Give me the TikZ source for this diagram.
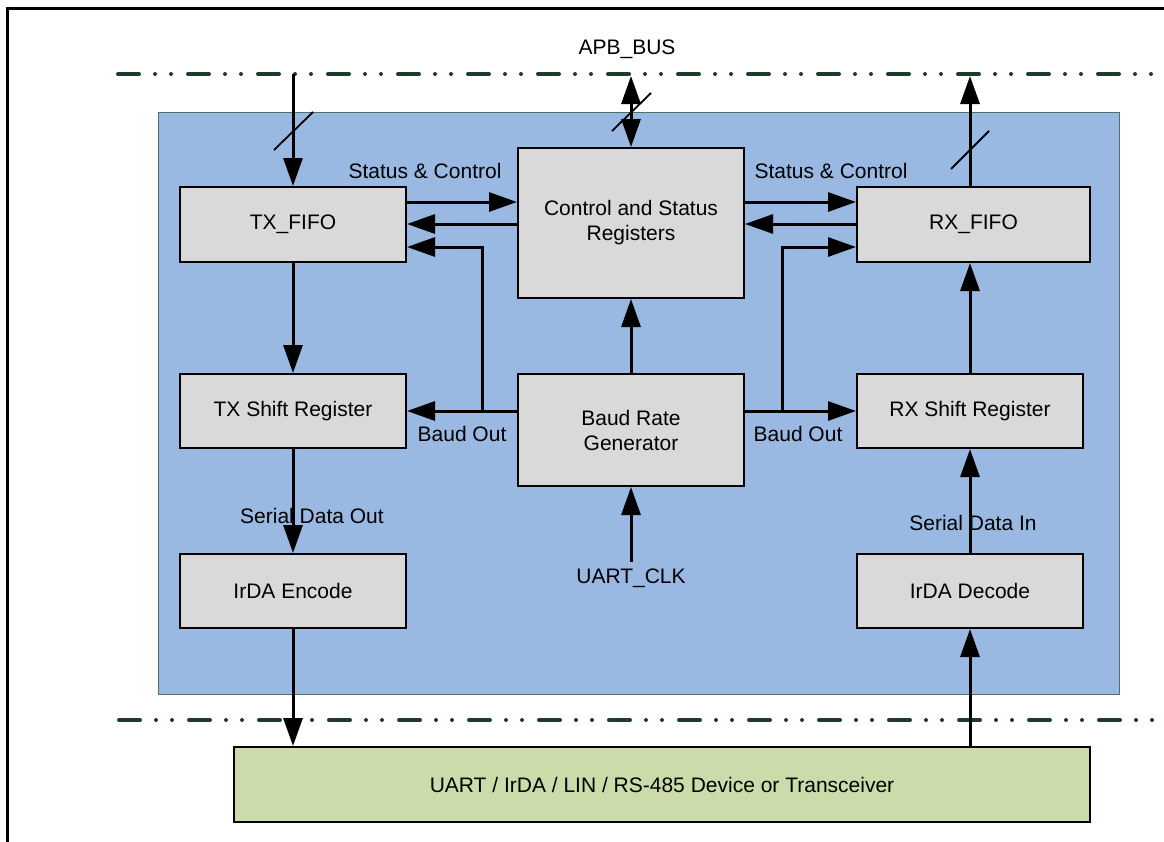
\documentclass[tikz,border=0pt]{standalone}
\usepackage{fontspec}
\setmainfont{Liberation Sans}
\usetikzlibrary{arrows.meta,calc}
\definecolor{bluebg}{RGB}{153,185,227}
\definecolor{blueedge}{RGB}{80,110,110}
\definecolor{boxgray}{RGB}{217,217,217}
\definecolor{boxgreen}{RGB}{204,219,170}
\definecolor{busgreen}{RGB}{30,60,40}
\begin{document}
\begin{tikzpicture}[x=1pt,y=-1pt,
  font=\fontsize{21}{25}\selectfont,
  blk/.style={draw=black, line width=2pt, fill=boxgray, inner sep=0pt, align=center, minimum width=226pt},
  arr/.style={line width=3pt, -{Triangle[length=28pt,width=19pt]}},
  dblarr/.style={line width=3pt, {Triangle[length=28pt,width=19pt]}-{Triangle[length=28pt,width=19pt]}},
  bus/.style={draw=busgreen, line width=4pt, line cap=round, dash pattern=on 21pt off 16pt on 0pt off 16pt on 0pt off 17pt},
  slash/.style={line width=1.8pt},
  lbl/.style={inner sep=0pt, anchor=base}]

\useasboundingbox (0,0) rectangle (1164,841);

% outer frame (partly visible)
\draw[line width=3pt] (7,860) -- (7,8) -- (1180,8);

% APB bus and bottom bus lines
\draw[bus] (118,74) -- (1180,74);
\draw[bus] (119,720) -- (1180,720);

% core background
\node[draw=blueedge, fill=bluebg, line width=1pt, minimum width=961pt, minimum height=582pt, inner sep=0pt] (core) at (638.5,403) {};

% blocks
\node[blk, minimum height=75pt] (txfifo) at (293,224.5) {TX\_FIFO};
\node[blk, minimum height=150pt] (csr) at (631,223) {Control and Status\\Registers};
\node[blk, minimum width=233pt, minimum height=75pt] (rxfifo) at (973.5,224.5) {RX\_FIFO};
\node[blk, minimum height=74pt] (txsr) at (293,411) {TX Shift Register};
\node[blk, minimum height=112pt] (brg) at (631,430) {Baud Rate\\Generator};
\node[blk, minimum height=74pt] (rxsr) at (970,411) {RX Shift Register};
\node[blk, minimum height=74pt] (enc) at (293,591) {IrDA Encode};
\node[blk, minimum height=74pt] (dec) at (970,591) {IrDA Decode};
\node[blk, fill=boxgreen, minimum width=856pt, minimum height=75pt] (dev) at (662,784.5) {UART / IrDA / LIN / RS-485 Device or Transceiver};

% bus connections
\coordinate (txbus) at (293,74);
\coordinate (apb) at (631,76);
\coordinate (rxbus) at (970,76);
\draw[arr] (txbus) -- (txfifo.north);
\draw[dblarr] (apb) -- (csr.north);
\draw[arr] (rxsr.north |- rxfifo.north) -- (rxbus);

% bus-width slashes
\draw[slash] (274,150) -- (313,112);
\draw[slash] (612,131) -- (651,93);
\draw[slash] (951,169) -- (989,131);

% status & control
\draw[arr] (txfifo.east |- 0,202) -- (csr.west |- 0,202);
\draw[arr] (csr.west |- 0,224) -- (txfifo.east |- 0,224);
\draw[arr] (csr.east |- 0,202) -- (rxfifo.west |- 0,202);
\draw[arr] (rxfifo.west |- 0,224) -- (csr.east |- 0,224);

% baud out
\coordinate (jl) at (482,411);
\coordinate (jr) at (782,411);
\draw[arr] (brg.west |- txsr.east) -- (txsr.east);
\draw[arr] (jl) -- (482,247) -- (txfifo.east |- 0,247);
\draw[arr] (brg.east |- rxsr.west) -- (rxsr.west);
\draw[arr] (jr) -- (782,247) -- (rxfifo.west |- 0,247);

% vertical data paths
\coordinate (clk) at (631,562);
\draw[arr] (brg.north) -- (csr.south);
\draw[arr] (clk) -- (brg.south);
\draw[arr] (txfifo.south) -- (txsr.north);
\draw[arr] (txsr.south) -- (enc.north);
\draw[arr] (enc.south) -- (enc.south |- dev.north);
\draw[arr] (dev.north -| dec.south) -- (dec.south);
\draw[arr] (dec.north) -- (rxsr.south);
\draw[arr] (rxsr.north) -- (rxsr.north |- rxfifo.south);

% labels
\node[lbl] at (627,54) {APB\_BUS};
\node[lbl] at (425,178) {Status \& Control};
\node[lbl] at (831,178) {Status \& Control};
\node[lbl] at (462,441) {Baud Out};
\node[lbl] at (798,441) {Baud Out};
\node[lbl] at (312,523) {Serial Data Out};
\node[lbl] at (973,530) {Serial Data In};
\node[lbl] at (631,583) {UART\_CLK};
\end{tikzpicture}
\end{document}
